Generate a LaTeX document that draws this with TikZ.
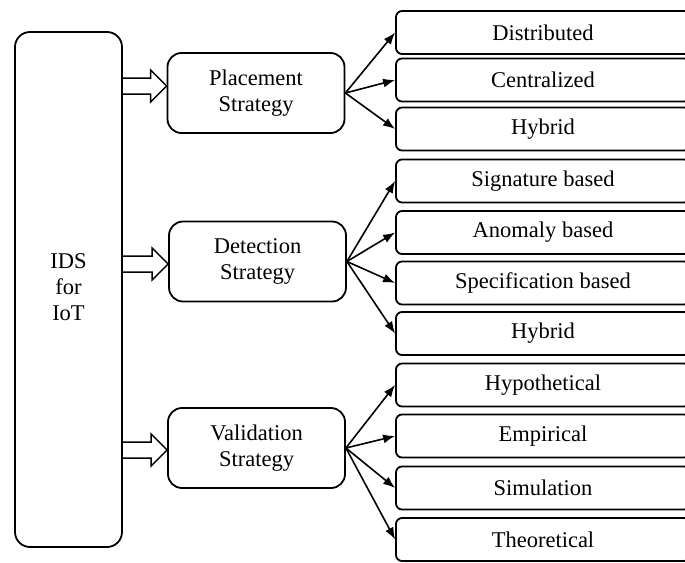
\documentclass[tikz,border=0pt]{standalone}
\usepackage{fontspec}
\setmainfont{Liberation Serif}
\usetikzlibrary{calc,arrows.meta}
\newcommand\hollowarr[3]{%
  \coordinate (ht) at ($(#2.west)+(0,#3)$);
  \draw[line width=1.5pt, line join=miter]
    ($(#1.east |- ht)+(0,-8)$) -- ($(ht)+(-16,-8)$) -- ($(ht)+(-16,-16)$) -- (ht)
    -- ($(ht)+(-16,16)$) -- ($(ht)+(-16,8)$) -- ($(#1.east |- ht)+(0,8)$);
}
\begin{document}
\begin{tikzpicture}[x=1pt,y=-1pt,
  every node/.style={font=\fontsize{22.5}{26}\selectfont, line width=1.8pt},
  bigbox/.style={draw, rounded corners=15pt, minimum width=107pt, minimum height=515pt, inner sep=0pt},
  strat/.style={draw, rounded corners=14pt, minimum width=177pt, minimum height=80pt, align=center, inner sep=0pt},
  leaf/.style={draw, rounded corners=6pt, minimum width=294pt, minimum height=43pt, inner sep=0pt},
  fan/.style={line width=1.6pt, -{Latex[length=12pt,width=9pt]}}]
\useasboundingbox (0,0) rectangle (685,562);
\clip (0,0) rectangle (685,562);
\fill[white] (0,0) rectangle (685,562);

\node[bigbox] (ids) at (68.5,289.5) {\raisebox{8pt}{\begin{tabular}{@{}c@{}}IDS\\for\\IoT\end{tabular}}};

\node[strat] (place) at (256,93) {Placement\\Strategy};
\node[strat] (detect) at (257.5,261.5) {Detection\\Strategy};
\node[strat] (valid) at (256.5,448) {Validation\\Strategy};

\node[leaf] (dist) at (543,32.5) {Distributed};
\node[leaf] (cent) at (543,80) {Centralized};
\node[leaf] (hyb1) at (543,129) {Hybrid};
\node[leaf] (sig) at (543,181) {Signature based};
\node[leaf] (anom) at (543,232.5) {Anomaly based};
\node[leaf] (spec) at (543,283) {Specification based};
\node[leaf] (hyb2) at (543,333.5) {Hybrid};
\node[leaf] (hypo) at (543,385) {Hypothetical};
\node[leaf] (emp) at (543,436) {Empirical};
\node[leaf] (sim) at (543,488) {Simulation};
\node[leaf] (theo) at (543,539.5) {Theoretical};

\hollowarr{ids}{place}{-7}
\hollowarr{ids}{detect}{2.5}
\hollowarr{ids}{valid}{2}

\foreach \t in {dist,cent,hyb1} \draw[fan] (place.east) -- (\t.west);
\foreach \t in {sig,anom,spec,hyb2} \draw[fan] (detect.east) -- (\t.west);
\foreach \t in {hypo,emp,sim,theo} \draw[fan] (valid.east) -- (\t.west);
\end{tikzpicture}
\end{document}
